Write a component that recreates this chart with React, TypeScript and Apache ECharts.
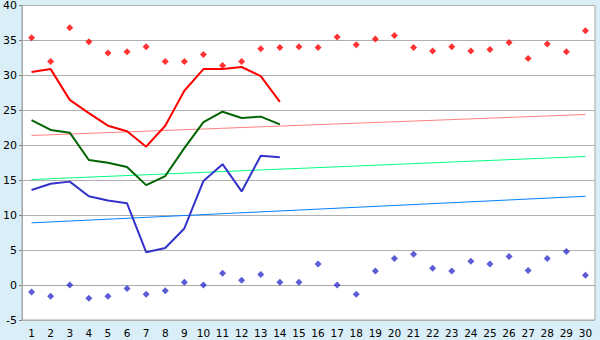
import React, { useEffect, useRef } from "react";
import * as echarts from "echarts";

const days = Array.from({ length: 30 }, (_, i) => String(i + 1));

const maxPoints = [35.4, 32.0, 36.8, 34.8, 33.2, 33.4, 34.1, 32.0, 32.0, 33.0, 31.4, 32.0, 33.8, 34.0, 34.1, 34.0, 35.5, 34.4, 35.2, 35.7, 34.0, 33.5, 34.1, 33.5, 33.7, 34.7, 32.4, 34.5, 33.4, 36.4];
const minPoints = [-1.0, -1.6, 0.0, -1.9, -1.6, -0.5, -1.3, -0.8, 0.4, 0.0, 1.7, 0.7, 1.5, 0.4, 0.4, 3.0, 0.0, -1.3, 2.0, 3.8, 4.4, 2.4, 2.0, 3.4, 3.0, 4.1, 2.1, 3.8, 4.8, 1.4];

const maxLine = [30.5, 30.9, 26.5, 24.6, 22.8, 22.0, 19.8, 22.8, 27.8, 30.9, 30.9, 31.2, 29.9, 26.2];
const meanLine = [23.6, 22.2, 21.8, 17.9, 17.5, 16.9, 14.3, 15.6, 19.6, 23.3, 24.8, 23.9, 24.1, 23.0];
const minLine = [13.6, 14.5, 14.8, 12.7, 12.1, 11.7, 4.7, 5.3, 8.1, 14.9, 17.3, 13.4, 18.5, 18.3];

const maxTrend = [21.4, 24.4];
const meanTrend = [15.1, 18.4];
const minTrend = [8.9, 12.7];

const yMin = -5;
const yMax = 40;
const yStep = 5;

export default function App() {
  const ref = useRef<HTMLDivElement>(null);
  useEffect(() => {
    if (!ref.current) return;
    const chart = echarts.init(ref.current, null, { renderer: "svg" });
    const last = days.length - 1;
    const trend = (v: number[]) => [[0, v[0]], [last, v[1]]];
    chart.setOption({
      animation: false,
      backgroundColor: "#d9eef6",
      grid: {
        left: 20,
        right: 5,
        top: 5,
        bottom: 20,
        show: true,
        backgroundColor: "#ffffff",
        borderColor: "#a8a8a8",
        borderWidth: 1,
      },
      xAxis: {
        type: "category",
        data: days,
        boundaryGap: true,
        axisLine: { lineStyle: { color: "#a8a8a8", width: 1 } },
        axisTick: { alignWithLabel: true, length: 5, lineStyle: { color: "#808080" } },
        axisLabel: { fontFamily: "DejaVu Sans", fontSize: 10.5, color: "#000", margin: 7, interval: 0 },
        splitLine: { show: false },
      },
      yAxis: {
        type: "value",
        min: yMin,
        max: yMax,
        interval: yStep,
        axisLine: { show: true, lineStyle: { color: "#a8a8a8", width: 1 } },
        axisTick: { show: true, length: 3, lineStyle: { color: "#808080" } },
        axisLabel: { fontFamily: "DejaVu Sans", fontSize: 11, color: "#000", margin: 5 },
        splitLine: { lineStyle: { color: "#b0b0b0", width: 1 } },
      },
      series: [
        { type: "line", data: trend(maxTrend), symbol: "none", lineStyle: { color: "#ff8080", width: 1 }, z: 2 },
        { type: "line", data: trend(meanTrend), symbol: "none", lineStyle: { color: "#00ff80", width: 1 }, z: 2 },
        { type: "line", data: trend(minTrend), symbol: "none", lineStyle: { color: "#0080ff", width: 1 }, z: 2 },
        { type: "line", data: maxLine, symbol: "none", lineStyle: { color: "#ff0000", width: 2 }, z: 3 },
        { type: "line", data: meanLine, symbol: "none", lineStyle: { color: "#006400", width: 2 }, z: 3 },
        { type: "line", data: minLine, symbol: "none", lineStyle: { color: "#3333cc", width: 2 }, z: 3 },
        { type: "scatter", data: maxPoints, symbol: "diamond", symbolSize: 7, itemStyle: { color: "#ff0000" }, z: 4 },
        { type: "scatter", data: minPoints, symbol: "diamond", symbolSize: 7, itemStyle: { color: "#3333cc" }, z: 4 },
      ],
    });
    return () => chart.dispose();
  }, []);
  return <div ref={ref} style={{ position: "fixed", left: 0, top: 0, width: 600, height: 340 }} />;
}
